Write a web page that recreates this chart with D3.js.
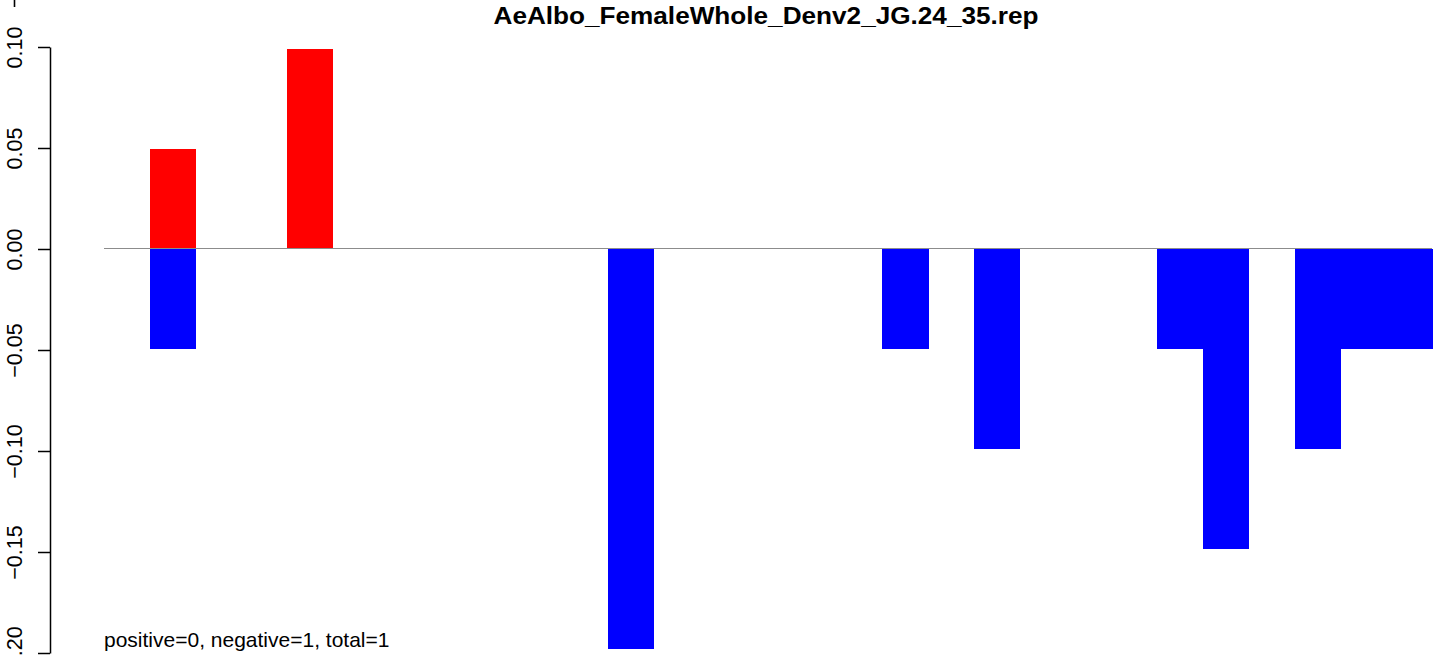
<!DOCTYPE html>
<html>
<head>
<meta charset="utf-8">
<script src="https://cdn.jsdelivr.net/npm/d3@7"></script>
<style>
  html, body { margin: 0; padding: 0; background: #fff; }
  svg { display: block; }
  text { font-family: "Liberation Sans", Arial, Helvetica, sans-serif; }
</style>
</head>
<body>
<svg id="chart" width="1444" height="655"></svg>
<script>
// ---- data ----
const title = "AeAlbo_FemaleWhole_Denv2_JG.24_35.rep";
const note = "positive=0, negative=1, total=1";
const slots = d3.range(29);
const positiveValues = [0, 0.0495, 0, 0, 0.099, 0, 0, 0, 0, 0, 0, 0, 0, 0, 0, 0, 0, 0, 0, 0, 0, 0, 0, 0, 0, 0, 0, 0, 0];
const negativeValues = [0, -0.0495, 0, 0, 0, 0, 0, 0, 0, 0, 0, -0.198, 0, 0, 0, 0, 0, -0.0495, 0, -0.099, 0, 0, 0, -0.0495, -0.1485, 0, -0.099, -0.0495, -0.0495];
const yTicks = [-0.20, -0.15, -0.10, -0.05, 0.00, 0.05, 0.10];
const yTickLabels = ["\u22120.20", "\u22120.15", "\u22120.10", "\u22120.05", "0.00", "0.05", "0.10"];

// ---- layout ----
const svg = d3.select("#chart");
const x = d3.scaleBand().domain(slots).range([104, 1432]).padding(0);
const y = d3.scaleLinear().domain([-0.2, 0.1]).range([653, 47]);

// bars
svg.append("g").attr("shape-rendering", "crispEdges").selectAll("rect.pos")
  .data(slots.filter(i => positiveValues[i] !== 0))
  .join("rect")
  .attr("class", "pos")
  .attr("x", i => x(i))
  .attr("width", x.bandwidth() + 0.5)
  .attr("y", i => y(positiveValues[i]))
  .attr("height", i => y(0) - y(positiveValues[i]))
  .attr("fill", "#ff0000");

svg.append("g").attr("shape-rendering", "crispEdges").selectAll("rect.neg")
  .data(slots.filter(i => negativeValues[i] !== 0))
  .join("rect")
  .attr("class", "neg")
  .attr("x", i => x(i))
  .attr("width", x.bandwidth() + 0.5)
  .attr("y", y(0))
  .attr("height", i => y(negativeValues[i]) - y(0))
  .attr("fill", "#0000ff");

// zero line
svg.append("line")
  .attr("x1", 104).attr("x2", 1432)
  .attr("y1", y(0) - 0.5).attr("y2", y(0) - 0.5)
  .attr("stroke", "#8c8c8c").attr("stroke-width", 1.2);

// y axis
const axis = d3.axisLeft(y)
  .tickValues(yTicks)
  .tickSize(12)
  .tickSizeOuter(0)
  .tickFormat((d, i) => yTickLabels[i]);
const ag = svg.append("g").attr("transform", "translate(50,0)").call(axis);
ag.select(".domain").attr("stroke", "#000").attr("stroke-width", 1.5);
ag.selectAll(".tick line").attr("stroke", "#000").attr("stroke-width", 1.5);
ag.selectAll(".tick text")
  .attr("x", null).attr("dy", null)
  .attr("transform", "translate(-28,0) rotate(-90)")
  .attr("text-anchor", "middle")
  .attr("fill", "#000")
  .style("font-size", "21.5px")
  .style("font-family", "'Liberation Sans', Arial, sans-serif");

// small stray mark at top-left (partial label)
svg.append("line")
  .attr("x1", 14.5).attr("x2", 14.5).attr("y1", 0).attr("y2", 7)
  .attr("stroke", "#000").attr("stroke-width", 1.6);

// title
svg.append("text")
  .attr("x", 766).attr("y", 24)
  .attr("text-anchor", "middle")
  .style("font-weight", "bold")
  .style("font-size", "24px")
  .attr("textLength", 545)
  .attr("lengthAdjust", "spacingAndGlyphs")
  .text(title);

// note
svg.append("text")
  .attr("x", 104).attr("y", 647)
  .style("font-size", "21px")
  .text(note);
</script>
</body>
</html>
